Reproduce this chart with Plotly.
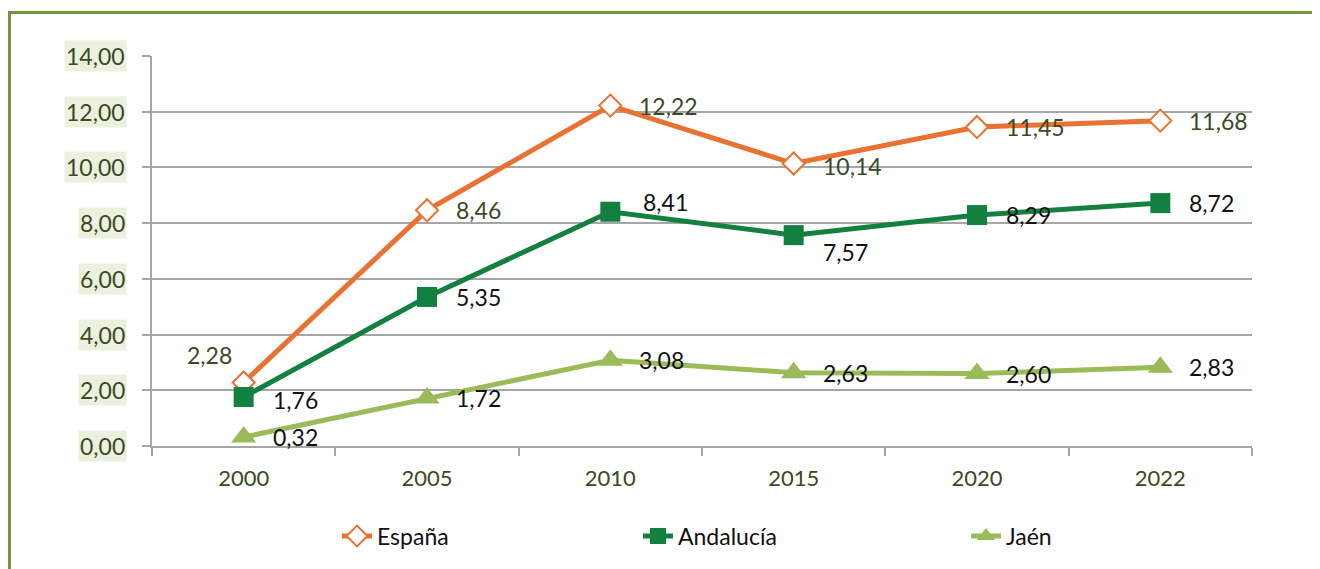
import plotly.graph_objects as go

years = ["2000", "2005", "2010", "2015", "2020", "2022"]
espana = [2.28, 8.46, 12.22, 10.14, 11.45, 11.68]
andalucia = [1.76, 5.35, 8.41, 7.57, 8.29, 8.72]
jaen = [0.32, 1.72, 3.08, 2.63, 2.60, 2.83]
series_names = ["España", "Andalucía", "Jaén"]
y_ticks = [0, 2, 4, 6, 8, 10, 12, 14]

ORANGE = "#E97132"
DKGREEN = "#138040"
LTGREEN = "#9BBB59"
LABEL_OLIVE = "#3A4A22"
FONT = "Lato"

# page offset (browser body margin) and geometry in screen pixels
OFF = 8
W, H = 1320 - OFF, 569 - OFF
X0, X1, Y0, Y1 = 152 - OFF, 1252 - OFF, 56 - OFF, 450 - OFF
L, R, T, B = X0, W - X1, Y0, H - Y1
PW, PH = X1 - X0, Y1 - Y0

def px_x(p):  # screen px -> paper
    return (p - OFF - L) / PW

def px_y(p):
    return (H - B - (p - OFF)) / PH

fig = go.Figure()

styles = [
    dict(color=ORANGE, symbol="diamond", size=17, fill="white", lw=2),
    dict(color=DKGREEN, symbol="square", size=20, fill=DKGREEN, lw=0),
    dict(color=LTGREEN, symbol="triangle-up", size=22, fill=LTGREEN, lw=0),
]
legend_ids = ["legend", "legend2", "legend3"]
for name, vals, st, lg in zip(series_names, [espana, andalucia, jaen], styles, legend_ids):
    fig.add_trace(go.Scatter(
        x=years, y=vals, name=name, mode="lines+markers",
        line=dict(color=st["color"], width=5),
        marker=dict(symbol=st["symbol"], size=st["size"], color=st["fill"],
                    line=dict(color=st["color"], width=st["lw"])),
        legend=lg, cliponaxis=False, hoverinfo="skip",
    ))

# data labels
label_colors = [LABEL_OLIVE, "#111111", "#111111"]
special = {
    (0, 0): dict(xanchor="center", xshift=-34, yshift=27),
    (1, 0): dict(yshift=-3),
    (1, 2): dict(xshift=31, yshift=10),
    (1, 3): dict(yshift=-17),
    (0, 3): dict(yshift=-2),
}
for si, vals in enumerate([espana, andalucia, jaen]):
    for i, v in enumerate(vals):
        kw = dict(xanchor="left", xshift=27, yshift=0)
        kw.update(special.get((si, i), {}))
        fig.add_annotation(
            x=i, y=v, xref="x", yref="y", text=f"{v:.2f}".replace(".", ","),
            showarrow=False, yanchor="middle",
            font=dict(family=FONT, size=23, color=label_colors[si]), **kw)

# y tick labels with highlighted background
for t in y_ticks:
    fig.add_annotation(
        x=0, xref="paper", y=t, yref="y", text=f"{t:.2f}".replace(".", ","),
        showarrow=False, xanchor="right", yanchor="middle", xshift=-25,
        bgcolor="#EBF1DE", borderpad=1,
        font=dict(family=FONT, size=23, color=LABEL_OLIVE))

# outer border
fig.add_shape(type="rect", xref="paper", yref="paper",
              x0=px_x(9.5), x1=px_x(1316), y0=px_y(12), y1=px_y(590),
              line=dict(color="#77933C", width=3), fillcolor="rgba(0,0,0,0)", layer="below")

legend_common = dict(orientation="h", yanchor="middle", xanchor="left",
                     bgcolor="rgba(0,0,0,0)", font=dict(family=FONT, size=23, color="#111111"),
                     tracegroupgap=0)

fig.update_layout(
    width=W, height=H,
    margin=dict(l=L, r=R, t=T, b=B),
    paper_bgcolor="white", plot_bgcolor="white",
    font=dict(family=FONT, size=20, color=LABEL_OLIVE),
    showlegend=True,
    legend=dict(x=px_x(337), y=px_y(541), **legend_common),
    legend2=dict(x=px_x(638), y=px_y(541), **legend_common),
    legend3=dict(x=px_x(966), y=px_y(541), **legend_common),
    xaxis=dict(type="category", categoryorder="array", categoryarray=years,
               range=[-0.5, 5.5], showgrid=False, showline=True, linecolor="#A6A6A6",
               linewidth=2, ticks="outside", tickson="boundaries", ticklen=8,
               tickcolor="#A6A6A6", tickwidth=2, ticklabelstandoff=12,
               tickfont=dict(family=FONT, size=22, color=LABEL_OLIVE), zeroline=False),
    yaxis=dict(range=[0, 14], tickvals=y_ticks, showticklabels=False,
               showgrid=True, gridcolor="#A6A6A6", gridwidth=2,
               showline=True, linecolor="#A6A6A6", linewidth=2,
               ticks="outside", ticklen=8, tickcolor="#A6A6A6", tickwidth=2,
               zeroline=False),
)

fig.write_html("out.html")
